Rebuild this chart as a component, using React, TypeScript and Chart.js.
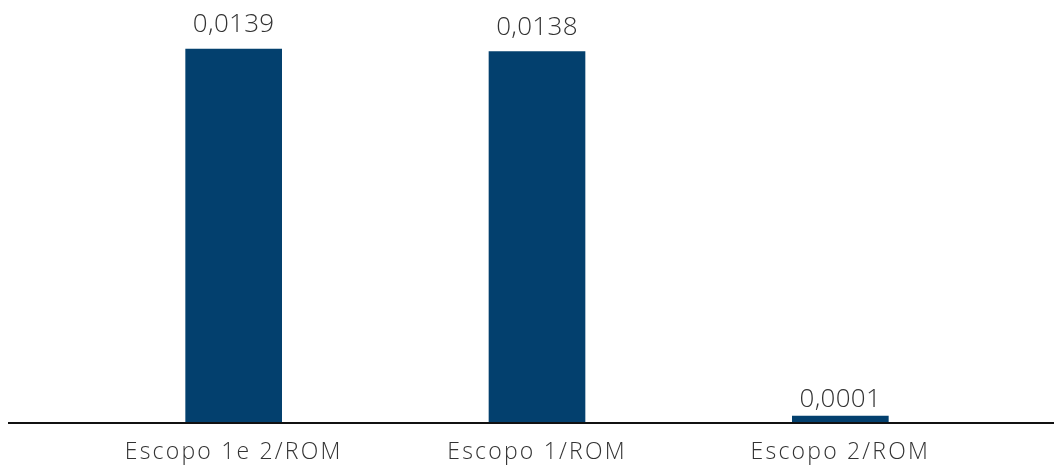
import React, { useEffect, useRef } from "react";
import { Chart, registerables } from "chart.js";

Chart.register(...registerables);

const categories = ["Escopo 1e 2/ROM", "Escopo 1/ROM", "Escopo 2/ROM"];
const values = [0.0139, 0.0138, 0.0001];
const valueLabels = ["0,0139", "0,0138", "0,0001"];

const FONT = "'Open Sans', sans-serif";

const labelPlugin = {
  id: "valueLabels",
  afterDatasetsDraw(chart: any) {
    const ctx = chart.ctx;
    const meta = chart.getDatasetMeta(0);
    const base = chart.scales.y.getPixelForValue(0);
    ctx.save();
    (ctx as any).letterSpacing = "0.3px";
    ctx.font = `300 26px ${FONT}`;
    ctx.fillStyle = "#333333";
    ctx.textAlign = "center";
    ctx.textBaseline = "alphabetic";
    meta.data.forEach((bar: any, i: number) => {
      const gap = base - bar.y > 20 ? 17 : 9;
      ctx.fillText(valueLabels[i], bar.x, bar.y - gap);
    });
    ctx.restore();
  },
};

const baselinePlugin = {
  id: "baseline",
  afterDatasetsDraw(chart: any) {
    const ctx = chart.ctx;
    const y = chart.scales.y.getPixelForValue(0);
    ctx.save();
    ctx.strokeStyle = "#111111";
    ctx.lineWidth = 2;
    ctx.beginPath();
    ctx.moveTo(8, y + 1);
    ctx.lineTo(chart.width, y + 1);
    ctx.stroke();
    ctx.restore();
  },
};

const spacingPlugin = {
  id: "letterSpacing",
  beforeDraw(chart: any) {
    (chart.ctx as any).letterSpacing = "2.2px";
  },
};

export default function App() {
  const ref = useRef<HTMLCanvasElement>(null);
  useEffect(() => {
    if (!ref.current) return;
    const chart = new Chart(ref.current, {
      type: "bar",
      data: {
        labels: categories,
        datasets: [
          {
            data: values,
            backgroundColor: "#03406E",
            barThickness: 96,
            minBarLength: 6,
          },
        ],
      },
      options: {
        animation: false,
        responsive: false,
        maintainAspectRatio: false,
        layout: { padding: { left: 82, right: 62, top: 20, bottom: 0 } },
        plugins: {
          legend: { display: false },
          tooltip: { enabled: false },
        },
        scales: {
          x: {
            grid: { display: false, drawTicks: false },
            border: { display: false },
            afterFit(scale: any) {
              scale.height = 44;
            },
            ticks: {
              padding: 17,
              color: "#333333",
              font: { family: FONT, size: 23, weight: "300" as any, lineHeight: 1.2 },
            },
          },
          y: {
            display: false,
            min: 0,
            max: 0.01498,
          },
        },
      },
      plugins: [spacingPlugin, labelPlugin, baselinePlugin],
    });
    return () => chart.destroy();
  }, []);
  return (
    <div style={{ position: "absolute", left: 0, top: 0, width: 1054, height: 466 }}>
      <canvas ref={ref} width={1054} height={466} style={{ width: 1054, height: 466 }} />
    </div>
  );
}
